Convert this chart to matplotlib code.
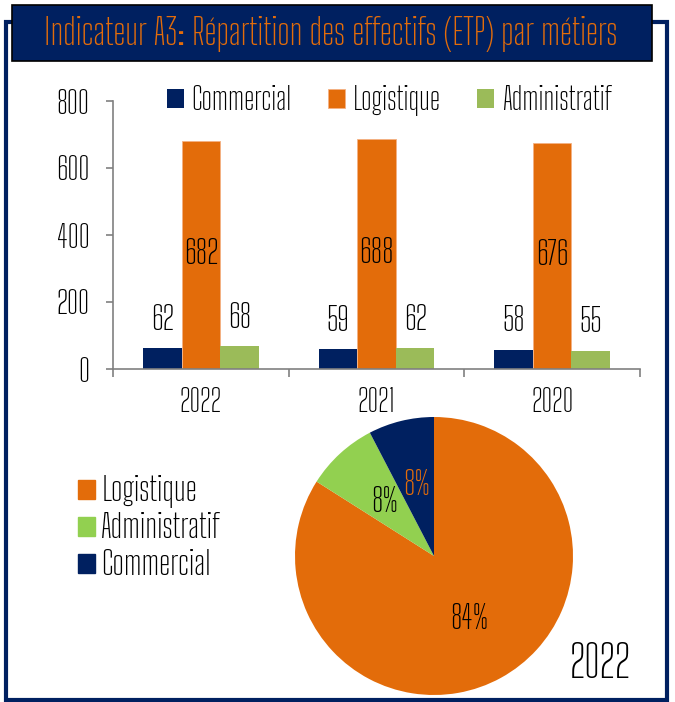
import numpy as np
import matplotlib
matplotlib.use("Agg")
import matplotlib.pyplot as plt
from matplotlib.patches import Rectangle, Patch

plt.rcParams['font.family'] = ['Big Shoulders Text', 'DejaVu Sans']

NAVY = "#002060"
ORANGE = "#E36C0A"
GREEN_BAR = "#9BBB59"
GREEN_PIE = "#92D050"

years = ["2022", "2021", "2020"]
commercial = [62, 59, 58]
logistique = [682, 688, 676]
administratif = [68, 62, 55]

pie_labels = ["Logistique", "Administratif", "Commercial"]
pie_values = [682, 68, 62]
pie_year = "2022"

title = "Indicateur A3: Répartition des effectifs (ETP) par métiers"

fig = plt.figure(figsize=(6.75, 7.02), dpi=100)

# frame + title banner
fig.patches.append(Rectangle((6/675, 2/702), 661/675, 678/702, transform=fig.transFigure,
                             fill=False, edgecolor=NAVY, linewidth=3, zorder=0))
fig.patches.append(Rectangle((12/675, 1-61/702), 640/675, 56/702, transform=fig.transFigure,
                             facecolor=NAVY, edgecolor="black", linewidth=1.2, zorder=5))
fig.text(331/675, 1-34/702, title, color=ORANGE, fontsize=26, ha="center", va="center", zorder=6)

# bar chart
ax = fig.add_axes([113/675, 1-369/702, 527/675, 268/702])
x = np.arange(len(years))
w = 0.22
b1 = ax.bar(x - w, commercial, w, color=NAVY, label="Commercial")
b2 = ax.bar(x, logistique, w, color=ORANGE, edgecolor="#F4B183", linewidth=0.6, label="Logistique")
b3 = ax.bar(x + w, administratif, w, color=GREEN_BAR, label="Administratif")
ax.bar_label(b1, padding=8, fontsize=24)
ax.bar_label(b2, label_type="center", fontsize=24)
ax.bar_label(b3, padding=8, fontsize=24)

ax.set_xlim(-0.5, 2.5)
ax.set_ylim(0, 800)
ax.set_yticks([0, 200, 400, 600, 800])
ax.set_xticks([-0.5, 0.5, 1.5, 2.5])
ax.set_xticklabels([])
ax.set_xticks(x, minor=True)
ax.set_xticklabels(years, minor=True)
ax.tick_params(axis="x", which="major", length=6, color="#808080", width=1.2)
ax.tick_params(axis="x", which="minor", length=0, pad=13, labelsize=22)
ax.tick_params(axis="y", length=5, color="#808080", width=1.2, pad=12, labelsize=23)
for s in ["top", "right"]:
    ax.spines[s].set_visible(False)
for s in ["left", "bottom"]:
    ax.spines[s].set_color("#808080")
    ax.spines[s].set_linewidth(1.2)

ax.legend(loc="center", bbox_to_anchor=(389/675, 1-100/702), bbox_transform=fig.transFigure,
          ncol=3, frameon=False, fontsize=22, handlelength=0.55, handleheight=0.55,
          handletextpad=0.25, columnspacing=1.2)

# pie chart
pax = fig.add_axes([(434-139)/675, 1-(556+139)/702, 278/675, 278/702])
wedges, texts, autotexts = pax.pie(pie_values, colors=[ORANGE, GREEN_PIE, NAVY], startangle=90,
                                   counterclock=False, autopct="%1.0f%%", pctdistance=0.52,
                                   textprops={"fontsize": 24})
autotexts[0].set_color("black")
autotexts[1].set_color("black")
autotexts[2].set_color(ORANGE)
pax.set_xlim(-1, 1)
pax.set_ylim(-1, 1)
pax.set_aspect("equal")

handles = [Patch(color=c) for c in [ORANGE, GREEN_PIE, NAVY]]
fig.legend(handles, pie_labels, loc="upper left", bbox_to_anchor=(48/675, 1-445/702),
           frameon=False, fontsize=24, handlelength=0.5, handleheight=0.5,
           handletextpad=0.2, labelspacing=0.12)

fig.text(600/675, 1-665/702, pie_year, fontsize=32, ha="center", va="center")

fig.savefig("out.png", dpi=100)
